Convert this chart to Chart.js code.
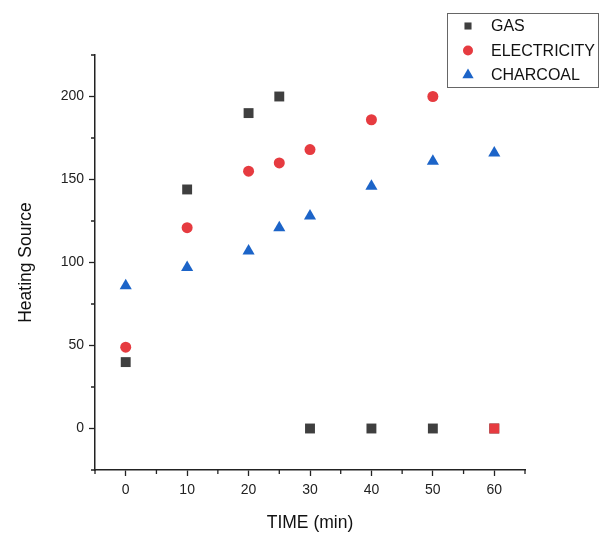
<!DOCTYPE html>
<html>
<head>
<meta charset="utf-8">
<script src="https://cdn.jsdelivr.net/npm/chart.js@4"></script>
<style>
  html, body { margin: 0; padding: 0; background: #fff; }
  #wrap { width: 608px; height: 536px; }
</style>
</head>
<body>
<div id="wrap"><canvas id="heatChart" width="608" height="536"></canvas></div>
<script>
// time values (min) for each series
const gasTime = [0, 10, 20, 25, 30, 40, 50, 60];
const gasValues = [40, 144, 190, 200, 0, 0, 0, 0];

const elecTime = [0, 10, 20, 25, 30, 40, 50, 60];
const elecValues = [49, 121, 155, 160, 168, 186, 200, 0];

const charcoalTime = [0, 10, 20, 25, 30, 40, 50, 60];
const charcoalValues = [86, 97, 107, 121, 128, 146, 161, 166];

const seriesNames = ['GAS', 'ELECTRICITY', 'CHARCOAL'];
const xTickLabels = [0, 10, 20, 30, 40, 50, 60];
const yTickLabels = [0, 50, 100, 150, 200];

const FONT = '"Liberation Sans", Arial, sans-serif';
const GAS_COLOR = '#3f3f3f';
const ELEC_COLOR = '#e63b40';
const CHAR_COLOR = '#1c64c8';

function toPoints(xs, ys) {
    return xs.map((x, i) => ({ x: x, y: ys[i] }));
}

// minor ticks (every 5 on x, every 25 on y) drawn shorter than major ones
const minorTicks = {
    id: 'minorTicks',
    afterDraw(chart) {
        const ctx = chart.ctx;
        const xs = chart.scales.x, ys = chart.scales.y;
        ctx.save();
        ctx.strokeStyle = '#222';
        ctx.lineWidth = 1.3;
        ctx.beginPath();
        for (let v = -5; v <= 65; v += 5) {
            if (xTickLabels.includes(v)) continue;
            const px = xs.getPixelForValue(v);
            ctx.moveTo(px, ys.bottom);
            ctx.lineTo(px, ys.bottom + 4);
        }
        for (let v = -25; v <= 225; v += 25) {
            if (yTickLabels.includes(v)) continue;
            const py = ys.getPixelForValue(v);
            ctx.moveTo(xs.left, py);
            ctx.lineTo(xs.left - 4, py);
        }
        ctx.stroke();
        ctx.restore();
    }
};

// boxed legend at the top right, as in the source figure
const boxLegend = {
    id: 'boxLegend',
    afterDraw(chart) {
        const ctx = chart.ctx;
        ctx.save();
        ctx.fillStyle = '#fff';
        ctx.fillRect(447, 13, 151, 74);
        ctx.strokeStyle = '#666';
        ctx.lineWidth = 1;
        ctx.strokeRect(447.5, 13.5, 151, 74);

        const styles = [
            { pointStyle: 'rect', radius: 5, color: GAS_COLOR },
            { pointStyle: 'circle', radius: 5, color: ELEC_COLOR },
            { pointStyle: 'triangle', radius: 6.5, color: CHAR_COLOR }
        ];
        ctx.font = '16px ' + FONT;
        ctx.textBaseline = 'middle';
        seriesNames.forEach((name, i) => {
            const y = 26 + i * 24.5;
            ctx.fillStyle = styles[i].color;
            ctx.strokeStyle = styles[i].color;
            Chart.helpers.drawPoint(ctx, { pointStyle: styles[i].pointStyle, radius: styles[i].radius, rotation: 0, borderWidth: 0 }, 468, y);
            ctx.fillStyle = '#111';
            ctx.fillText(name, 491, y + 1);
        });
        ctx.restore();
    }
};

new Chart(document.getElementById('heatChart'), {
    type: 'scatter',
    data: {
        datasets: [{
            label: seriesNames[0],
            data: toPoints(gasTime, gasValues),
            pointStyle: 'rect',
            pointRadius: 7,
            backgroundColor: GAS_COLOR,
            borderColor: GAS_COLOR,
            borderWidth: 0,
            order: 1
        }, {
            label: seriesNames[1],
            data: toPoints(elecTime, elecValues),
            pointStyle: ['circle', 'circle', 'circle', 'circle', 'circle', 'circle', 'circle', 'rect'],
            pointRadius: [5.5, 5.5, 5.5, 5.5, 5.5, 5.5, 5.5, 7],
            backgroundColor: ELEC_COLOR,
            borderColor: ELEC_COLOR,
            borderWidth: 0,
            order: 0
        }, {
            label: seriesNames[2],
            data: toPoints(charcoalTime, charcoalValues),
            pointStyle: 'triangle',
            pointRadius: 7,
            backgroundColor: CHAR_COLOR,
            borderColor: CHAR_COLOR,
            borderWidth: 0,
            order: 2
        }]
    },
    options: {
        responsive: false,
        animation: false,
        layout: { padding: { top: 55, right: 83, left: 0, bottom: 0 } },
        plugins: {
            legend: { display: false },
            tooltip: { enabled: false }
        },
        scales: {
            x: {
                type: 'linear',
                min: -5,
                max: 65,
                border: { color: '#222', width: 1.5 },
                grid: { drawOnChartArea: false, tickLength: 6, tickColor: '#222', tickWidth: 1.3 },
                afterBuildTicks: (axis) => { axis.ticks = xTickLabels.map(v => ({ value: v })); },
                afterFit: (axis) => { axis.height = 66; },
                ticks: {
                    color: '#222',
                    padding: 6,
                    maxRotation: 0,
                    font: { family: FONT, size: 14 }
                },
                title: {
                    display: true,
                    text: 'TIME (min)',
                    color: '#111',
                    font: { family: FONT, size: 17.5 },
                    padding: { top: 0, bottom: 2 }
                }
            },
            y: {
                type: 'linear',
                min: -25,
                max: 225,
                border: { color: '#222', width: 1.5 },
                grid: { drawOnChartArea: false, tickLength: 6, tickColor: '#222', tickWidth: 1.3 },
                afterBuildTicks: (axis) => { axis.ticks = yTickLabels.map(v => ({ value: v })); },
                afterFit: (axis) => { axis.width = 95; },
                ticks: {
                    color: '#222',
                    padding: 5,
                    font: { family: FONT, size: 14 }
                },
                title: {
                    display: true,
                    text: 'Heating Source',
                    color: '#111',
                    font: { family: FONT, size: 17.5 },
                    padding: { top: 16, bottom: 0 }
                }
            }
        }
    },
    plugins: [minorTicks, boxLegend]
});
</script>
</body>
</html>
